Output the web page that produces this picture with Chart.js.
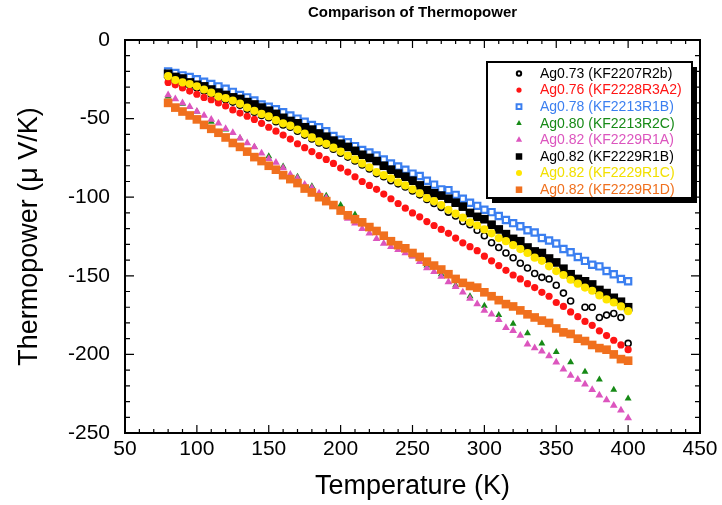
<!DOCTYPE html>
<html>
<head>
<meta charset="utf-8">
<script src="https://cdn.jsdelivr.net/npm/chart.js@4.4.1/dist/chart.umd.min.js"></script>
<style>
  html, body { margin: 0; padding: 0; background: #fff; }
  #wrap { width: 722px; height: 505px; }
</style>
</head>
<body>
<div id="wrap"><canvas id="tpChart" width="722" height="505"></canvas></div>
<script>
// temperatures (K), 5 K steps; green sample was measured every 10 K
const temps = [80,85,90,95,100,105,110,115,120,125,
  130,135,140,145,150,155,160,165,170,175,
  180,185,190,195,200,205,210,215,220,225,
  230,235,240,245,250,255,260,265,270,275,
  280,285,290,295,300,305,310,315,320,325,
  330,335,340,345,350,355,360,365,370,375,
  380,385,390,395,400];
const tempsGreen = [80,90,100,110,120,130,140,150,160,170,
  180,190,200,210,220,230,240,250,260,270,
  280,290,300,310,320,330,340,350,360,370,
  380,390,400];

// thermopower (uV/K)
const s073 = [-23.5,-26.5,-28,-29,-30.5,-32.5,-34.5,-37,-38,-39.5,
  -41.5,-44,-46,-48,-49.5,-52,-54,-55.5,-58,-60.5,
  -63,-65.5,-67,-69.5,-72,-74.5,-77,-79.5,-82,-85,
  -87,-89.5,-91.5,-93.5,-96,-98.5,-101.5,-104,-106.5,-109.5,
  -112,-115.5,-117.5,-121,-124.5,-129,-132,-135.5,-138.5,-142,
  -145,-148.5,-151,-152,-156,-161,-166,null,-170,-170,
  -176.5,-175,-174,-176.5,-193];
const s076 = [-27,-28.5,-30.5,-32.5,-34.5,-36.5,-38,-40,-42,-44.5,
  -46.5,-48.5,-50.5,-53,-55.5,-58,-60.5,-63,-66,-68.5,
  -71,-73.5,-76,-78.5,-81.5,-84,-87,-90,-92.5,-95,
  -98,-101,-104,-107,-110,-112.5,-115.5,-118,-120.5,-123,
  -126,-129,-131.5,-134,-137.5,-140.5,-143.5,-146.5,-149.5,-152,
  -155,-157.5,-160.5,-163,-167,-169.5,-173,-176,-179,-181.5,
  -185,-188,-191,-194,-197];
const s078 = [-20,-21,-22.5,-23.5,-25,-26.5,-28,-29.5,-31,-33,
  -35,-36.5,-38.5,-41,-42.5,-44,-46,-48,-50,-52,
  -54,-55.5,-58,-61,-63.5,-65,-67.5,-70,-71.5,-73.5,
  -76,-78.5,-80.5,-82.5,-85,-86.5,-89.5,-92,-95,-95.5,
  -98.5,-101,-103.5,-105.5,-108,-109.5,-112,-114.5,-116.5,-118.5,
  -121,-122.5,-126,-127.5,-129.5,-133,-135,-138,-140.5,-143,
  -144,-147,-149,-152,-153.5];
const s080 = [-36,-40.5,-45.5,-52,-57,-62.5,-68,-74,-80.5,-87,
  -93,-99,-105,-111,-119,-126,-131.5,-137.5,-143.5,-149,
  -156,-163,-169,-175,-180.5,-186.5,-193,-198.5,-205,-211,
  -216,-222.5,-228];
const s082a = [-35,-37.5,-40,-42.5,-45.5,-48,-50.5,-53,-56.5,-59,
  -62.5,-65.5,-68,-72,-75.5,-78,-81.5,-85.5,-88,-92,
  -94,-97.5,-100.5,-105.5,-109,-113.5,-116.5,-120,-123,-126.5,
  -129.5,-131.5,-133.5,-135.5,-137.5,-141,-145,-147.5,-150.5,-154,
  -157,-160.5,-164.5,-168,-172,-174.5,-178,-183,-185,-188,
  -193.5,-196,-198,-201,-205,-209.5,-213.5,-216,-219,-222.5,
  -226,-229,-232.5,-235.5,-240.5];
const s082b = [-21.5,-23.5,-24.5,-27,-28.5,-29.5,-31.5,-33.5,-35,-36.5,
  -37.5,-39.5,-41,-43,-45,-47,-49.5,-51.5,-53,-55.5,
  -57,-59.5,-61.5,-64,-66,-68,-70.5,-73,-75,-77,
  -80,-82.5,-85,-87,-89.5,-92.5,-95.5,-97.5,-99,-101,
  -103.5,-106,-110,-112.5,-114,-117.5,-120.5,-123.5,-126.5,-128,
  -132,-134.5,-135.5,-139,-141.5,-145.5,-149,-152,-153.5,-155.5,
  -159,-161,-164,-166.5,-170];
const s082c = [-23,-25.5,-27,-28,-29.5,-31.5,-33.5,-36,-37,-38.5,
  -40.5,-43,-45,-47,-48.5,-51,-53,-54.5,-57,-59.5,
  -62,-64.5,-66,-68.5,-71,-73.5,-76,-78.5,-81,-84,
  -86,-88,-90.5,-92.5,-95,-97.5,-100.5,-102.5,-105,-108,
  -110.5,-113,-116,-118,-120.5,-123,-126,-128,-130.5,-133,
  -135.5,-138.5,-140.5,-144,-147,-149.5,-152.5,-155,-157.5,-159.5,
  -162.5,-165,-167,-169.5,-172.5];
const s082d = [-40,-43,-45.5,-48,-50.5,-54,-56.5,-59,-62,-65.5,
  -68,-71,-74.5,-77,-80,-82.5,-86,-88.5,-91,-94.5,
  -97,-100,-102.5,-105,-108.5,-111.5,-114,-116,-119,-121.5,
  -124.5,-128,-130.5,-132.5,-135.5,-138,-141,-143.5,-146,-149,
  -152,-154.5,-156.5,-157.5,-160.5,-163,-165.5,-168,-169.5,-172,
  -174.5,-176.5,-178.5,-180,-183.5,-186,-187,-190,-191.5,-194,
  -196,-197,-200,-203,-204];

const xTickLabels = [50,100,150,200,250,300,350,400,450];
const yTickLabels = [0,-50,-100,-150,-200,-250];

const FONT = "'Liberation Sans', Arial, Helvetica, sans-serif";

function pts(xs, ys) {
  return xs.map((t, i) => ({x: t, y: ys[i]}));
}

const series = [
  {label: 'Ag0.73 (KF2207R2b)', x: temps, y: s073, color: '#000000', text: '#000000',
   style: 'circle', r: 3, bg: 'rgba(255,255,255,0)', bw: 1.6, lr: 2.2, lbw: 1.4},
  {label: 'Ag0.76 (KF2228R3A2)', x: temps, y: s076, color: '#ff1414', text: '#ff1414',
   style: 'circle', r: 3.6, bw: 0, lr: 2.6, lbw: 0},
  {label: 'Ag0.78 (KF2213R1B)', x: temps, y: s078, color: '#3b7ff0', text: '#3b7ff0',
   style: 'rect', r: 4.4, bg: '#ffffff', bw: 2.2, lr: 3.4, lbw: 1.5},
  {label: 'Ag0.80 (KF2213R2C)', x: tempsGreen, y: s080, color: '#168a16', text: '#168a16',
   style: 'triangle', r: 4, bw: 0, lr: 3.2, lbw: 0},
  {label: 'Ag0.82 (KF2229R1A)', x: temps, y: s082a, color: '#dc55be', text: '#dc55be',
   style: 'triangle', r: 4.5, bw: 0, lr: 3.6, lbw: 0},
  {label: 'Ag0.82 (KF2229R1B)', x: temps, y: s082b, color: '#000000', text: '#000000',
   style: 'rect', r: 6.1, bw: 0, lr: 4.6, lbw: 0},
  {label: 'Ag0.82 (KF2229R1C)', x: temps, y: s082c, color: '#ffe600', text: '#f2e000',
   style: 'circle', r: 4.1, bw: 0, lr: 3, lbw: 0},
  {label: 'Ag0.82 (KF2229R1D)', x: temps, y: s082d, color: '#f0701e', text: '#f0701e',
   style: 'rect', r: 6.1, bw: 0, lr: 4.6, lbw: 0}
];

const framePlugin = {
  id: 'frame',
  afterDatasetsDraw(chart) {
    const {ctx, chartArea: a, scales: {x, y}} = chart;
    ctx.save();
    ctx.strokeStyle = '#000';
    ctx.lineWidth = 1.2;
    ctx.beginPath();
    const x0 = xTickLabels[0], x1 = xTickLabels[xTickLabels.length - 1];
    for (let t = x0; t <= x1; t += 10) {
      const px = x.getPixelForValue(t);
      const len = (t - x0) % 50 === 0 ? 8 : 4;
      ctx.moveTo(px, a.bottom); ctx.lineTo(px, a.bottom - len);
      ctx.moveTo(px, a.top); ctx.lineTo(px, a.top + len);
    }
    const y0 = yTickLabels[yTickLabels.length - 1], y1 = yTickLabels[0];
    for (let v = y0; v <= y1; v += 10) {
      const py = y.getPixelForValue(v);
      const len = (v - y0) % 50 === 0 ? 9 : 5;
      ctx.moveTo(a.left, py); ctx.lineTo(a.left + len, py);
      ctx.moveTo(a.right, py); ctx.lineTo(a.right - len, py);
    }
    ctx.stroke();
    ctx.lineWidth = 2;
    ctx.strokeRect(a.left, a.top, a.right - a.left, a.bottom - a.top);
    ctx.restore();
  }
};

const legendPlugin = {
  id: 'boxLegend',
  afterDraw(chart) {
    const {ctx, chartArea: a} = chart;
    const w = 205, h = 136;
    const left = a.right - 213, top = a.top + 22;
    ctx.save();
    ctx.fillStyle = '#000';
    ctx.fillRect(left + 5, top + 5, w, h);
    ctx.fillStyle = '#fff';
    ctx.fillRect(left, top, w, h);
    ctx.lineWidth = 2;
    ctx.strokeStyle = '#000';
    ctx.strokeRect(left, top, w, h);
    ctx.font = '14px ' + FONT;
    ctx.textBaseline = 'middle';
    ctx.textAlign = 'left';
    series.forEach((s, i) => {
      const cy = top + 11.5 + i * 16.6;
      ctx.fillStyle = s.bg !== undefined ? s.bg : s.color;
      ctx.strokeStyle = s.color;
      Chart.helpers.drawPoint(ctx, {pointStyle: s.style, radius: s.lr, rotation: 0, borderWidth: s.lbw}, left + 32, cy);
      ctx.fillStyle = s.text;
      ctx.fillText(s.label, left + 53, cy + 0.5);
    });
    ctx.restore();
  }
};

const titlePlugin = {
  id: 'topTitle',
  afterDraw(chart) {
    const {ctx, chartArea: a} = chart;
    ctx.save();
    ctx.font = 'bold 15px ' + FONT;
    ctx.fillStyle = '#000';
    ctx.textAlign = 'center';
    ctx.textBaseline = 'middle';
    ctx.fillText('Comparison of Thermopower', (a.left + a.right) / 2, 13);
    ctx.restore();
  }
};

new Chart(document.getElementById('tpChart'), {
  type: 'scatter',
  data: {
    datasets: series.map((s, i) => ({
      label: s.label,
      data: pts(s.x, s.y),
      order: series.length - 1 - i,
      pointStyle: s.style,
      pointRadius: s.r,
      pointHoverRadius: s.r,
      pointBackgroundColor: s.bg !== undefined ? s.bg : s.color,
      pointBorderColor: s.color,
      pointBorderWidth: s.bw,
      showLine: false
    }))
  },
  options: {
    responsive: false,
    animation: false,
    devicePixelRatio: 1,
    layout: {padding: {top: 40, right: 22, bottom: 0, left: 0}},
    plugins: {
      legend: {display: false},
      tooltip: {enabled: false},
      title: {display: false}
    },
    scales: {
      x: {
        type: 'linear',
        min: xTickLabels[0],
        max: xTickLabels[xTickLabels.length - 1],
        afterFit(scale) { scale.height = 72; },
        afterBuildTicks(scale) { scale.ticks = xTickLabels.map(v => ({value: v})); },
        grid: {display: false, drawTicks: false},
        border: {display: false},
        ticks: {color: '#000', padding: 4, maxRotation: 0, autoSkip: false,
                font: {family: FONT, size: 21}},
        title: {display: true, text: 'Temperature (K)', color: '#000',
                font: {family: FONT, size: 27}, padding: {top: 0, bottom: 2}}
      },
      y: {
        type: 'linear',
        min: yTickLabels[yTickLabels.length - 1],
        max: yTickLabels[0],
        afterFit(scale) { scale.width = 125; },
        afterBuildTicks(scale) { scale.ticks = yTickLabels.slice().reverse().map(v => ({value: v})); },
        grid: {display: false, drawTicks: false},
        border: {display: false},
        ticks: {color: '#000', padding: 15, autoSkip: false,
                font: {family: FONT, size: 21}},
        title: {display: true, text: 'Thermopower (\u03bc V/K)', color: '#000',
                font: {family: FONT, size: 27}, padding: {top: 13, bottom: 0}}
      }
    }
  },
  plugins: [framePlugin, legendPlugin, titlePlugin]
});
</script>
</body>
</html>
